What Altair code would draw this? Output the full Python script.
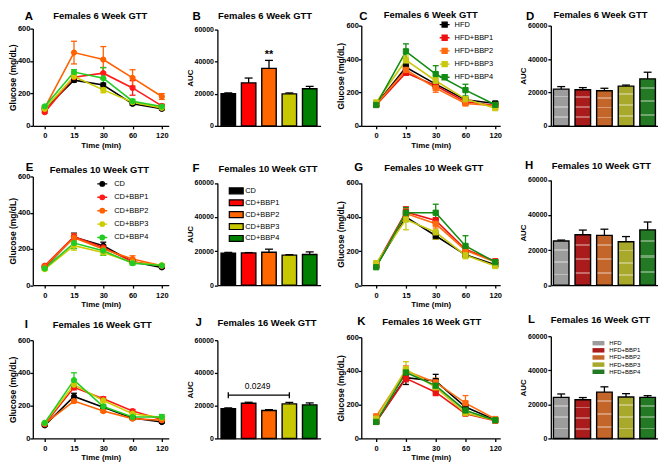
import json
import altair as alt
import pandas as pd

FONT = "Liberation Sans"

TIME_LABELS = ["0", "15", "30", "60", "120"]
CD_GROUPS = ["CD", "CD+BBP1", "CD+BBP2", "CD+BBP3", "CD+BBP4"]
HFD_GROUPS = ["HFD", "HFD+BBP1", "HFD+BBP2", "HFD+BBP3", "HFD+BBP4"]
CD_LINE_COLORS = ["#000000", "#FF1A1A", "#FF6000", "#CCCC00", "#22CC22"]
HFD_LINE_COLORS = ["#000000", "#EE1111", "#FF6A10", "#C8C810", "#128C12"]
BAR_COLORS = ["#000000", "#FF0000", "#FF6600", "#C8C800", "#008000"]
PATTERN_COLORS = ["#9C9C9C", "#AA1C1C", "#C4652A", "#A8A82A", "#247A24"]
Y_GLU_TICKS = [0, 200, 400, 600]
Y_AUC_TICKS = [0, 20000, 40000, 60000]

# ---- Panel A: Females 6 week GTT (CD groups)
A_MEAN = {"CD": [105, 282, 252, 136, 105], "CD+BBP1": [84, 300, 325, 234, 123],
          "CD+BBP2": [111, 452, 409, 296, 181], "CD+BBP3": [105, 304, 222, 146, 111],
          "CD+BBP4": [120, 332, 294, 152, 119]}
A_ERR = {"CD": [8, 12, 12, 8, 6], "CD+BBP1": [6, 25, 35, 45, 10],
         "CD+BBP2": [8, 70, 80, 50, 18], "CD+BBP3": [6, 18, 18, 8, 6],
         "CD+BBP4": [6, 15, 65, 12, 8]}
# ---- Panel B: AUC 6 week (CD)
B_AUC = [20000, 26800, 35800, 19900, 23100]
B_ERR = [500, 3000, 5000, 600, 1500]
# ---- Panel C: Females 6 week GTT (HFD groups)
C_MEAN = {"HFD": [128, 350, 250, 156, 134], "HFD+BBP1": [125, 318, 240, 144, 122],
          "HFD+BBP2": [128, 335, 226, 134, 120], "HFD+BBP3": [140, 393, 270, 160, 106],
          "HFD+BBP4": [125, 446, 310, 214, 126]}
C_ERR = {"HFD": [8, 20, 15, 10, 10], "HFD+BBP1": [6, 15, 15, 10, 8],
         "HFD+BBP2": [8, 20, 25, 12, 8], "HFD+BBP3": [8, 25, 20, 15, 8],
         "HFD+BBP4": [8, 45, 50, 35, 10]}
# ---- Panel D: AUC 6 week (HFD)
D_AUC = [22000, 21600, 21000, 23800, 28100]
D_ERR = [1500, 1300, 1500, 600, 4000]
# ---- Panel E: Females 10 week GTT (CD)
E_MEAN = {"CD": [98, 265, 217, 129, 98], "CD+BBP1": [107, 268, 208, 129, 107],
          "CD+BBP2": [103, 262, 199, 144, 107], "CD+BBP3": [88, 218, 180, 125, 110],
          "CD+BBP4": [92, 232, 190, 121, 108]}
E_ERR = {"CD": [8, 22, 20, 10, 6], "CD+BBP1": [6, 15, 15, 10, 6],
         "CD+BBP2": [6, 20, 20, 18, 6], "CD+BBP3": [6, 25, 15, 10, 6],
         "CD+BBP4": [6, 30, 25, 10, 6]}
# ---- Panel F: AUC 10 week (CD)
F_AUC = [18800, 18900, 19300, 17600, 18000]
F_ERR = [400, 200, 1800, 300, 1500]
# ---- Panel G: Females 10 week GTT (HFD)
G_MEAN = {"HFD": [113, 400, 290, 178, 120], "HFD+BBP1": [119, 430, 380, 210, 140],
          "HFD+BBP2": [113, 420, 360, 205, 135], "HFD+BBP3": [129, 385, 310, 175, 112],
          "HFD+BBP4": [105, 425, 425, 230, 135]}
G_ERR = {"HFD": [8, 20, 20, 10, 8], "HFD+BBP1": [8, 30, 15, 15, 8],
         "HFD+BBP2": [8, 30, 25, 15, 8], "HFD+BBP3": [8, 60, 40, 20, 8],
         "HFD+BBP4": [8, 30, 50, 60, 10]}
# ---- Panel H: AUC 10 week (HFD)
H_AUC = [25200, 28700, 28400, 24700, 31500]
H_ERR = [500, 2700, 3500, 3000, 4500]
# ---- Panel I: Females 16 week GTT (CD)
I_MEAN = {"CD": [80, 256, 191, 125, 100], "CD+BBP1": [87, 312, 242, 167, 115],
          "CD+BBP2": [90, 228, 167, 121, 111], "CD+BBP3": [95, 328, 232, 151, 127],
          "CD+BBP4": [95, 356, 195, 131, 131]}
I_ERR = {"CD": [5, 20, 10, 8, 6], "CD+BBP1": [5, 15, 12, 10, 8],
         "CD+BBP2": [5, 10, 8, 8, 8], "CD+BBP3": [5, 20, 15, 10, 10],
         "CD+BBP4": [5, 45, 12, 10, 15]}
# ---- Panel J: AUC 16 week (CD)
J_AUC = [18100, 21500, 17100, 21100, 20500]
J_ERR = [500, 600, 500, 900, 1200]
J_PVALUE = "0.0249"
# ---- Panel K: Females 16 week GTT (HFD)
K_MEAN = {"HFD": [98, 360, 340, 186, 110], "HFD+BBP1": [98, 356, 274, 147, 105],
          "HFD+BBP2": [131, 400, 332, 209, 115], "HFD+BBP3": [117, 410, 303, 150, 108],
          "HFD+BBP4": [98, 391, 313, 166, 108]}
K_ERR = {"HFD": [6, 40, 40, 10, 6], "HFD+BBP1": [6, 20, 20, 10, 6],
         "HFD+BBP2": [6, 30, 25, 45, 8], "HFD+BBP3": [6, 45, 20, 10, 6],
         "HFD+BBP4": [6, 25, 20, 12, 6]}
# ---- Panel L: AUC 16 week (HFD)
L_AUC = [24100, 22700, 27200, 24300, 24100]
L_ERR = [2000, 1300, 3100, 2000, 1000]

LABEL_EXPR = json.dumps(TIME_LABELS) + "[datum.value]"
SYM_LINE_SQUARE = "M-1.25,0H1.25M-0.625,-0.625H0.625V0.625H-0.625Z"
SYM_LINE_CIRCLE = "M-1.25,0H1.25M0.56,0A0.56,0.56 0 1 1 -0.56,0A0.56,0.56 0 1 1 0.56,0Z"
SYM_RECT_F = "M-2,-0.85H2V0.85H-2Z"
SYM_RECT_L = "M-2,-0.75H2V0.75H-2Z"

# light horizontal bands used as a texture over the patterned HFD bars
STRIPE_CENTERS = [0.2, 0.48, 0.76]
STRIPE_HALF = 0.022
STRIPE_COLOR = "rgba(255,255,255,0.35)"
CLEAR = "rgba(255,255,255,0)"

COL_W = [145, 104, 150, 108]
ROW_H = [101, 109.5, 103]
COL1_XDOM = [-0.407, 4.237]
COL3_XDOM = [-0.5, 4.167]


def stripe_gradient():
    stops = [alt.GradientStop(offset=0, color=CLEAR)]
    for c in STRIPE_CENTERS:
        stops += [alt.GradientStop(offset=c - STRIPE_HALF, color=CLEAR),
                  alt.GradientStop(offset=c - STRIPE_HALF, color=STRIPE_COLOR),
                  alt.GradientStop(offset=c + STRIPE_HALF, color=STRIPE_COLOR),
                  alt.GradientStop(offset=c + STRIPE_HALF, color=CLEAR)]
    stops.append(alt.GradientStop(offset=1, color=CLEAR))
    return alt.LinearGradient(gradient="linear", stops=stops, x1=0, x2=0, y1=0, y2=1)


def header(letter, title, pos):
    lx, ly, tx, ty = pos
    d = pd.DataFrame({"letter": [letter], "title": [title]})
    base = alt.Chart(d)
    l = base.mark_text(font=FONT, fontSize=11.5, fontWeight="bold", align="left",
                       baseline="alphabetic", color="black").encode(
        text="letter:N", x=alt.value(lx), y=alt.value(ly))
    t = base.mark_text(font=FONT, fontSize=9.5, fontWeight="bold", align="center",
                       baseline="alphabetic", color="black").encode(
        text="title:N", x=alt.value(tx), y=alt.value(ty))
    return [l, t]


def line_panel(letter, title, pos, groups, colors, means, errs, width, height,
               xdom, xrng, yrng, shape, legend):
    rows = []
    for g in groups:
        for ti, (m, e) in enumerate(zip(means[g], errs[g])):
            rows.append({"group": g, "ti": ti, "mean": m, "lo": m - e, "hi": m + e})
    df = pd.DataFrame(rows)
    cs = alt.Scale(domain=groups, range=colors)
    xs = alt.Scale(domain=xdom, range=xrng, nice=False, zero=False)
    ys = alt.Scale(domain=[0, 600], range=yrng, nice=False, zero=False)
    xax = alt.Axis(values=[0, 1, 2, 3, 4], labelExpr=LABEL_EXPR, title="Time (min)",
                   labelFontSize=7.5, titleFontSize=8, tickSize=3, labelPadding=3,
                   titlePadding=2, labelOverlap=False, labelFlush=False)
    yax = alt.Axis(values=Y_GLU_TICKS, title="Glucose (mg/dL)", labelFontSize=7.5,
                   titleFontSize=8.5, tickSize=3, labelPadding=0, titlePadding=0,
                   labelOverlap=False)
    X = alt.X("ti:Q", scale=xs, axis=xax)
    base = alt.Chart(df)
    leg = alt.Legend(**legend) if legend is not None else None
    col = alt.Color("group:N", scale=cs, legend=leg)
    line = base.mark_line(strokeWidth=1.6, opacity=1, strokeOpacity=1).encode(
        X, alt.Y("mean:Q", scale=ys, axis=yax), color=col)
    rule = base.mark_rule(strokeWidth=1.3, opacity=1).encode(
        X, alt.Y("lo:Q", scale=ys, axis=yax), y2="hi:Q", color=col)
    cap_lo = base.mark_tick(orient="horizontal", size=6, thickness=1.3, opacity=1).encode(
        X, alt.Y("lo:Q", scale=ys, axis=yax), color=col)
    cap_hi = base.mark_tick(orient="horizontal", size=6, thickness=1.3, opacity=1).encode(
        X, alt.Y("hi:Q", scale=ys, axis=yax), color=col)
    pts = base.mark_point(filled=True, shape=shape, size=28, opacity=1, fillOpacity=1,
                          strokeOpacity=1, strokeWidth=1).encode(
        X, alt.Y("mean:Q", scale=ys, axis=yax), color=col,
        stroke=alt.Stroke("group:N", scale=cs, legend=leg))
    layers = [line, rule, cap_lo, cap_hi, pts] + header(letter, title, pos)
    return alt.layer(*layers).properties(width=width, height=height)


def bar_panel(letter, title, pos, groups, colors, vals, errs, width, height,
              xrng, pi, po, yrng, legend, extras=None, striped=False):
    df = pd.DataFrame({"group": groups, "auc": vals,
                       "hi": [v + e for v, e in zip(vals, errs)]})
    cs = alt.Scale(domain=groups, range=colors)
    xs = alt.Scale(domain=groups, range=xrng, paddingInner=pi, paddingOuter=po)
    ys = alt.Scale(domain=[0, 60000], range=yrng, nice=False, zero=False)
    xax = alt.Axis(labels=False, ticks=False, title=None, domain=True)
    yax = alt.Axis(values=Y_AUC_TICKS, format="d", title="AUC", labelFontSize=7,
                   titleFontSize=8, tickSize=3, labelPadding=1, titlePadding=0,
                   labelOverlap=False)
    X = alt.X("group:N", scale=xs, axis=xax)
    Y = alt.Y("auc:Q", scale=ys, axis=yax)
    base = alt.Chart(df)
    leg = alt.Legend(**legend) if legend is not None else None
    layers = []
    if striped:
        layers.append(base.mark_bar(strokeWidth=0, opacity=1).encode(
            X, Y, color=alt.Color("group:N", scale=cs, legend=leg)))
        layers.append(base.mark_bar(fill=stripe_gradient(), strokeWidth=0).encode(X, Y))
        layers.append(base.mark_bar(fillOpacity=0, stroke="black",
                                    strokeWidth=1.4).encode(X, Y))
    else:
        layers.append(base.mark_bar(stroke="black", strokeWidth=1.4, opacity=1).encode(
            X, Y, color=alt.Color("group:N", scale=cs, legend=leg)))
    err = base.mark_rule(color="black", strokeWidth=1.3, opacity=1).encode(
        X, Y, y2="hi:Q")
    cap = base.mark_tick(orient="horizontal", color="black", size=8, thickness=1.3,
                         opacity=1).encode(X, alt.Y("hi:Q", scale=ys, axis=yax))
    layers += [err, cap]
    if extras:
        layers += extras(X, ys, yax)
    layers += header(letter, title, pos)
    return alt.layer(*layers).properties(width=width, height=height)


def b_extras(X, ys, yax):
    d = pd.DataFrame({"group": [CD_GROUPS[2]], "y": [44000], "t": ["**"]})
    return [alt.Chart(d).mark_text(font=FONT, fontSize=11, fontWeight="bold",
                                   baseline="middle", color="black").encode(
        X, alt.Y("y:Q", scale=ys, axis=yax), text="t:N")]


def j_extras(X, ys, yax):
    d = pd.DataFrame({"group": [CD_GROUPS[0], CD_GROUPS[3]], "y": [26400, 26400]})
    t = pd.DataFrame({"group": [CD_GROUPS[1]], "y": [31800], "t": [J_PVALUE]})
    line = alt.Chart(d).mark_line(color="black", strokeWidth=1.3).encode(
        X, alt.Y("y:Q", scale=ys, axis=yax))
    ends = alt.Chart(d).mark_tick(orient="vertical", color="black", size=6,
                                  thickness=1.3, opacity=1).encode(
        X, alt.Y("y:Q", scale=ys, axis=yax))
    txt = alt.Chart(t).mark_text(font=FONT, fontSize=8.5, baseline="middle", dx=9,
                                 color="black").encode(
        X, alt.Y("y:Q", scale=ys, axis=yax), text="t:N")
    return [line, ends, txt]


LEG_C = dict(title=None, orient="none", legendX=79, legendY=-6, symbolType=SYM_LINE_SQUARE,
             symbolSize=64, symbolStrokeWidth=1.4, symbolOpacity=1, labelFont=FONT,
             labelFontSize=7.5, labelColor="black", rowPadding=1.25, labelOffset=5,
             padding=0, symbolOffset=0, offset=0, labelLimit=200)
LEG_E = dict(title=None, orient="none", legendX=65, legendY=2.5, symbolType=SYM_LINE_CIRCLE,
             symbolSize=64, symbolStrokeWidth=1.4, symbolOpacity=1, labelFont=FONT,
             labelFontSize=7.5, labelColor="black", rowPadding=1.5, labelOffset=7,
             padding=0, symbolOffset=0, offset=0, labelLimit=200)
LEG_F = dict(title=None, orient="none", legendX=14.5, legendY=10, symbolType=SYM_RECT_F,
             symbolSize=49, symbolStrokeWidth=1.2, symbolStrokeColor="black",
             labelFont=FONT, labelFontSize=7.5, labelColor="black", rowPadding=1,
             labelOffset=4.5, padding=0, symbolOffset=0, offset=0, labelLimit=200)
LEG_L = dict(title=None, orient="none", legendX=45, legendY=4, symbolType=SYM_RECT_L,
             symbolSize=36, symbolStrokeWidth=0, labelFont=FONT, labelFontSize=6,
             labelColor="black", rowPadding=1.2, labelOffset=8, padding=0, symbolOffset=0,
             offset=0, labelLimit=200)

T6 = "Females 6 Week GTT"
T10 = "Females 10 Week GTT"
T16 = "Females 16 Week GTT"

A = line_panel("A", T6, (-8, -6, 68, -7), CD_GROUPS, CD_LINE_COLORS, A_MEAN, A_ERR,
               COL_W[0], ROW_H[0], COL1_XDOM, [0, 137], [101, 3], "circle", None)
B = bar_panel("B", T6, (-25, -6, 48, -7), CD_GROUPS, BAR_COLORS, B_AUC, B_ERR,
              COL_W[1], ROW_H[0], [0, 104], 0.29, 0.18, [101, 4], None, b_extras)
C = line_panel("C", T6, (-2, -6, 70, -7.5), HFD_GROUPS, HFD_LINE_COLORS, C_MEAN, C_ERR,
               COL_W[2], ROW_H[0], COL3_XDOM, [0, 140], [101, 0], "square", LEG_C)
D = bar_panel("D", T6, (-25, -6, 50, -7.5), HFD_GROUPS, PATTERN_COLORS, D_AUC, D_ERR,
              COL_W[3], ROW_H[0], [0, 108], 0.28, 0.12, [101, 0], None, striped=True)

E = line_panel("E", T10, (-7, -5, 67, -3), CD_GROUPS, CD_LINE_COLORS, E_MEAN, E_ERR,
               COL_W[0], ROW_H[1], COL1_XDOM, [0, 137], [109.5, 0], "circle", LEG_E)
F = bar_panel("F", T10, (-25, -4, 51, -4), CD_GROUPS, BAR_COLORS, F_AUC, F_ERR,
              COL_W[1], ROW_H[1], [0, 104], 0.29, 0.18, [109.5, 6.5], LEG_F)
G = line_panel("G", T10, (-7, -6, 73, -5), HFD_GROUPS, HFD_LINE_COLORS, G_MEAN, G_ERR,
               COL_W[2], ROW_H[1], COL3_XDOM, [0, 140], [109.5, 6.5], "square", None)
H = bar_panel("H", T10, (-26, -8, 51, -8), HFD_GROUPS, PATTERN_COLORS, H_AUC, H_ERR,
              COL_W[3], ROW_H[1], [0, 108], 0.28, 0.12, [109.5, 3.5], None, striped=True)

I = line_panel("I", T16, (-8, -8, 70, -8), CD_GROUPS, CD_LINE_COLORS, I_MEAN, I_ERR,
               COL_W[0], ROW_H[2], COL1_XDOM, [0, 137], [103, 4], "circle", None)
J = bar_panel("J", T16, (-22, -10, 50, -10), CD_GROUPS, BAR_COLORS, J_AUC, J_ERR,
              COL_W[1], ROW_H[2], [0, 104], 0.29, 0.18, [103, 4], None, j_extras)
K = line_panel("K", T16, (-4, -11, 71, -11), HFD_GROUPS, HFD_LINE_COLORS, K_MEAN, K_ERR,
               COL_W[2], ROW_H[2], COL3_XDOM, [0, 140], [103, 1], "square", None)
L = bar_panel("L", T16, (-23, -13, 50, -13), HFD_GROUPS, PATTERN_COLORS, L_AUC, L_ERR,
              COL_W[3], ROW_H[2], [0, 108], 0.28, 0.12, [103, 0], LEG_L, striped=True)

chart = alt.concat(A, B, C, D, E, F, G, H, I, J, K, L, columns=4,
                   spacing={"row": 51, "column": 41}, bounds="flush").resolve_scale(
    color="independent", stroke="independent"
).resolve_legend(color="independent", stroke="independent").properties(
    padding={"left": 0, "top": 0, "right": 0, "bottom": 0}
).configure(font=FONT, background="white").configure_view(stroke=None).configure_axis(
    domainColor="black", tickColor="black", domainWidth=1.3, tickWidth=1.3,
    labelColor="black", titleColor="black", labelFont=FONT, titleFont=FONT,
    labelFontWeight="bold", titleFontWeight="bold", grid=False
)

chart.save("out.html", embed_options={"renderer": "svg", "actions": False})
